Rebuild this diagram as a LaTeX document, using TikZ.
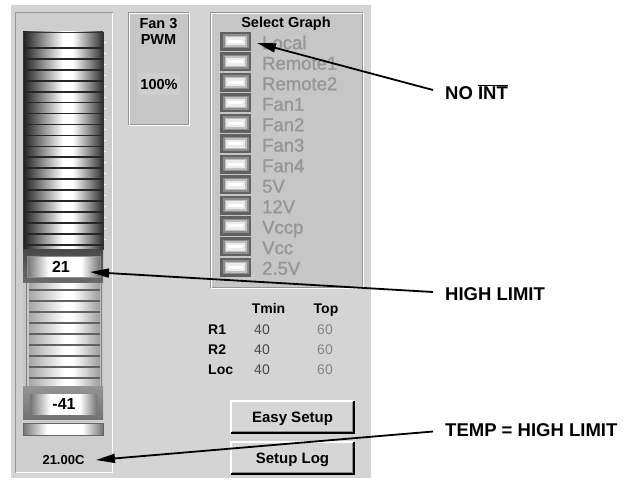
\documentclass[tikz,border=0pt]{standalone}
\usepackage{fontspec}
\setmainfont{Liberation Sans}
\newfontfamily\sgfont{Liberation Sans}[FakeBold=1.2]
\usetikzlibrary{arrows.meta}
\definecolor{bgc}{RGB}{212,212,212}
\definecolor{pnl}{RGB}{206,206,206}
\definecolor{pnlB}{RGB}{198,198,198}
\definecolor{edg}{RGB}{150,150,150}
\definecolor{dimtxt}{RGB}{150,150,150}
\definecolor{btnface}{RGB}{214,214,214}
\pgfdeclarehorizontalshading{cyl}{100bp}{color(0bp)=(black!88); color(25bp)=(black!88); color(50bp)=(white); color(56bp)=(white); color(75bp)=(black!82); color(100bp)=(black!82)}
\pgfdeclarehorizontalshading{lcyl}{100bp}{color(0bp)=(black!35); color(25bp)=(black!35); color(50bp)=(white); color(56bp)=(white); color(75bp)=(black!38); color(100bp)=(black!38)}
\pgfdeclarehorizontalshading{btn}{100bp}{color(0bp)=(black!55); color(25bp)=(black!55); color(40bp)=(white); color(62bp)=(white); color(75bp)=(black!55); color(100bp)=(black!55)}
\tikzset{
  txtb/.style={inner sep=0pt, text height={0.72*#1pt}, text depth=0pt, font=\fontsize{#1}{#1}\selectfont\bfseries},
  txtr/.style={inner sep=0pt, text height={0.72*#1pt}, text depth=0pt, font=\fontsize{#1}{#1}\selectfont},
  sglab/.style={anchor=west, inner sep=0pt, text height=13.3pt, text depth=0pt, text=dimtxt, font=\sgfont\fontsize{18.5}{19}\selectfont},
  sgbtn/.style={minimum width=31pt, minimum height=19pt, inner sep=0pt, fill=black!62,
    path picture={
      \fill[black!45] ([shift={(2.5pt,2.5pt)}]path picture bounding box.south west) rectangle ([shift={(-2.5pt,-2.5pt)}]path picture bounding box.north east);
      \fill[black!25] ([shift={(4.5pt,4pt)}]path picture bounding box.south west) rectangle ([shift={(-4.5pt,-4pt)}]path picture bounding box.north east);
      \fill[black!8] ([shift={(6pt,5.5pt)}]path picture bounding box.south west) rectangle ([shift={(-6pt,-5.5pt)}]path picture bounding box.north east);
      \fill[white] ([shift={(8pt,8pt)}]path picture bounding box.south west) rectangle ([shift={(-8pt,-8pt)}]path picture bounding box.north east);
    }},
  winbtn/.style={minimum width=123pt, minimum height=32pt, inner sep=0pt, fill=btnface,
    text height=10.8pt, text depth=0pt, font=\fontsize{15}{15}\selectfont\bfseries},
  callout/.style={anchor=west, inner xsep=12pt, inner ysep=0pt, text height=13.2pt, text depth=0pt,
    font=\fontsize{18.5}{20}\selectfont\bfseries},
  callline/.style={line width=1.8pt, black, -{Triangle[length=19pt,width=9pt]}},
}
\begin{document}
\begin{tikzpicture}[x=1pt,y=-1pt]
\useasboundingbox (0,0) rectangle (629,481);
\fill[white] (0,0) rectangle (629,481);
\fill[bgc] (11,5) rectangle (371,478);

% ---------------- thermometer panel
\fill[pnl] (15,12) rectangle (113,473);
\draw[edg,line width=1.2] (15.6,473) -- (15.6,12.6) -- (113,12.6);
\draw[white,line width=1.2] (112.4,12.6) -- (112.4,472.4) -- (15.6,472.4);

% upper striped cylinder
\shade[shading=cyl] (23,32) rectangle (103,249);
\foreach \k in {0,...,18}{
  \draw[black!85,line width=1.6] (23,{48+10.93*\k}) -- (103,{48+10.93*\k});
  \draw[white,line width=1] (103,{42.5+10.93*\k}) -- (106,{42.5+10.93*\k});
}
\draw[black!80,line width=0.8] (23,32) rectangle (103,249);

% high-limit slider
\shade[top color=black!72,bottom color=black!58] (23,249) rectangle (103,283);
\shade[shading=btn] (27,256) rectangle (100,277);
\draw[black!45,line width=0.8] (27,256) rectangle (100,277);
\node[txtb=16] (hi) at (61,266.5) {21};

% lower striped section
\fill[black!22] (23,283) rectangle (103,386);
\shade[shading=lcyl] (29,283) rectangle (100,386);
\foreach \k in {0,...,8}{
  \draw[black!62,line width=1.3] (29,{290+11*\k}) -- (100,{290+11*\k});
}
\draw[black!50,line width=0.8] (26.5,283) -- (26.5,386);
\draw[black!50,line width=0.8] (101.5,283) -- (101.5,386);

% low-limit slider
\shade[top color=black!42,bottom color=black!55] (23,386) rectangle (103,419);
\shade[shading=btn] (30,394) rectangle (97,414);
\node[txtb=16] (lo) at (64,404) {-41};

% small bar
\shade[shading=btn] (23,423) rectangle (103,435);
\draw[black!60,line width=0.8] (23,423) rectangle (103,435);

\node[txtb=13] (temp) at (63.5,460) {21.00C};

% ---------------- Fan 3 PWM panel
\fill[pnlB] (128,12) rectangle (189,125);
\draw[edg,line width=0.8] (128.5,12.5) rectangle (188.5,124.5);
\draw[white,line width=0.8] (129.5,13.5) rectangle (189.5,125.5);
\node[txtb=14.5] (fan) at (158.5,23) {Fan 3};
\node[txtb=14.5] (pwm) at (158.5,39) {PWM};
\node[txtb=14.5, fill=pnl, minimum width=42pt, minimum height=22pt] (pct) at (159,84) {100\%};

% ---------------- Select Graph panel
\fill[pnlB] (210,12) rectangle (363,288);
\draw[edg,line width=0.8] (210.5,12.5) rectangle (362.5,287.5);
\draw[white,line width=0.8] (211.5,13.5) rectangle (363.5,288.5);
\node[txtb=14.5] (sg) at (286,22.5) {Select Graph};
\foreach \lbl [count=\i from 0] in {Local,Remote1,Remote2,Fan1,Fan2,Fan3,Fan4,5V,12V,Vccp,Vcc,2.5V}{
  \node[sgbtn] (b\i) at (235.5,{41.5+20.5*\i}) {};
  \node[sglab] (lab\i) at (262,{42.5+20.5*\i}) {\lbl};
}

% ---------------- Table
\node[txtb=14] (tmin) at (268.5,308) {Tmin};
\node[txtb=14] (top) at (326,308) {Top};
\node[txtb=14, anchor=west] (r1) at (208,329) {R1};
\node[txtb=14, anchor=west] (r2) at (208,349) {R2};
\node[txtb=14, anchor=west] (loc) at (208,369) {Loc};
\foreach \yy/\nm in {329/a,349/b,369/c}{
  \node[txtr=14, text=black!72] (v40\nm) at (262,\yy) {40};
  \node[txtr=14, text=black!48] (v60\nm) at (325,\yy) {60};
}

% ---------------- Buttons
\node[winbtn] (easy) at (292.5,417) {Easy Setup};
\node[winbtn] (log) at (292.5,458) {Setup Log};
\foreach \b in {easy,log}{
  \draw[white,line width=1.5] (\b.south west) -- (\b.north west) -- (\b.north east);
  \draw[black,line width=1.5] (\b.north east) -- (\b.south east) -- (\b.south west);
  \draw[black!45,line width=1] ([shift={(1.5pt,1.5pt)}]\b.south west) -- ([shift={(-1.5pt,1.5pt)}]\b.south east) -- ([shift={(-1.5pt,-1.5pt)}]\b.north east);
}

% ---------------- Callouts
\coordinate (tipA) at (257,43);
\coordinate (tipB) at (90,272);
\coordinate (tipC) at (96,460);
\node[callout] (c1) at (433,93) {NO $\overline{\hbox{INT}}$};
\node[callout] (c2) at (433,293.5) {HIGH LIMIT};
\node[callout] (c3) at (433,429.5) {TEMP = HIGH LIMIT};
\draw[callline] ([yshift=3pt]c1.west) -- (tipA);
\draw[callline] ([yshift=1.5pt]c2.west) -- (tipB);
\draw[callline] ([yshift=-2pt]c3.west) -- (tipC);
\end{tikzpicture}
\end{document}
